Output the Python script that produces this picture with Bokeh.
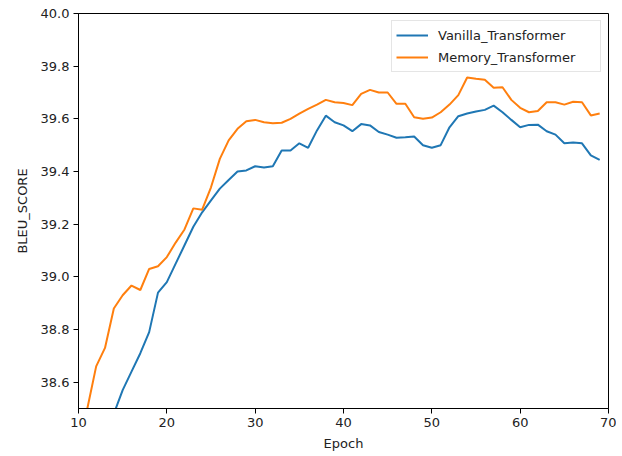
from bokeh.plotting import figure
from bokeh.models import Range1d, FixedTicker, Legend, LegendItem, NumeralTickFormatter
from bokeh.embed import file_html
from bokeh.resources import INLINE

epochs = list(range(10, 70))
vanilla = [38.10, 38.20, 38.30, 38.40, 38.48, 38.57, 38.64, 38.71, 38.79, 38.94,
           38.98, 39.05, 39.12, 39.19, 39.245, 39.29, 39.335, 39.368, 39.40, 39.404,
           39.42, 39.415, 39.42, 39.48, 39.48, 39.507, 39.49, 39.556, 39.612, 39.587,
           39.575, 39.553, 39.58, 39.575, 39.55, 39.54, 39.528, 39.53, 39.533, 39.50,
           39.49, 39.50, 39.568, 39.61, 39.62, 39.628, 39.634, 39.65, 39.625, 39.596,
           39.568, 39.577, 39.578, 39.553, 39.54, 39.507, 39.51, 39.507, 39.461, 39.444]
memory = [38.35, 38.50, 38.66, 38.73, 38.88, 38.93, 38.967, 38.95, 39.03, 39.04,
          39.075, 39.13, 39.18, 39.26, 39.255, 39.34, 39.448, 39.518, 39.562, 39.591,
          39.596, 39.587, 39.583, 39.585, 39.60, 39.62, 39.638, 39.654, 39.672, 39.663,
          39.66, 39.652, 39.695, 39.71, 39.70, 39.70, 39.657, 39.657, 39.606, 39.60,
          39.605, 39.625, 39.654, 39.69, 39.757, 39.752, 39.748, 39.718, 39.72, 39.672,
          39.642, 39.625, 39.63, 39.663, 39.663, 39.654, 39.665, 39.663, 39.613, 39.62]
series_names = ["Vanilla_Transformer", "Memory_Transformer"]
x_ticks = [10, 20, 30, 40, 50, 60, 70]
y_ticks = [38.6, 38.8, 39.0, 39.2, 39.4, 39.6, 39.8, 40.0]

FONT = "DejaVu Sans"

p = figure(frame_width=530, frame_height=395, output_backend="svg", toolbar_location=None,
           x_range=Range1d(10, 70), y_range=Range1d(38.5, 40.0),
           min_border_left=78, min_border_right=8, min_border_top=13, min_border_bottom=40)
p.background_fill_color = "white"
p.border_fill_color = "white"
p.outline_line_color = "black"
p.outline_line_width = 1
p.grid.visible = False

r1 = p.line(epochs, vanilla, line_color="#1f77b4", line_width=2)
r2 = p.line(epochs, memory, line_color="#ff7f0e", line_width=2)

for ax in (p.xaxis[0], p.yaxis[0]):
    ax.axis_line_color = "black"
    ax.major_tick_line_color = "black"
    ax.major_tick_out = 5
    ax.major_tick_in = 0
    ax.minor_tick_line_color = None
    ax.major_label_text_font = FONT
    ax.major_label_text_font_size = "13px"
    ax.major_label_text_color = "#222222"
    ax.axis_label_text_font = FONT
    ax.axis_label_text_font_size = "13px"
    ax.axis_label_text_font_style = "normal"
    ax.axis_label_text_color = "#222222"
    ax.major_label_standoff = 4

p.xaxis.ticker = FixedTicker(ticks=x_ticks)
p.yaxis.ticker = FixedTicker(ticks=y_ticks)
p.yaxis.formatter = NumeralTickFormatter(format="0.0")
p.xaxis.axis_label = "Epoch"
p.yaxis.axis_label = "BLEU_SCORE"
p.xaxis.axis_label_standoff = 6
p.yaxis.axis_label_standoff = 8

legend = Legend(items=[LegendItem(label=series_names[0], renderers=[r1]),
                       LegendItem(label=series_names[1], renderers=[r2])],
                location="top_right")
legend.margin = 7
legend.padding = 4
legend.spacing = 2
legend.glyph_width = 32
legend.glyph_height = 20
legend.label_height = 20
legend.label_standoff = 10
legend.label_width = 158
legend.label_text_font = FONT
legend.label_text_font_size = "13px"
legend.label_text_color = "#222222"
legend.border_line_color = "#cccccc"
legend.border_line_width = 1
legend.background_fill_alpha = 0.8
p.add_layout(legend)

open("out.html", "w").write(file_html(p, INLINE))
